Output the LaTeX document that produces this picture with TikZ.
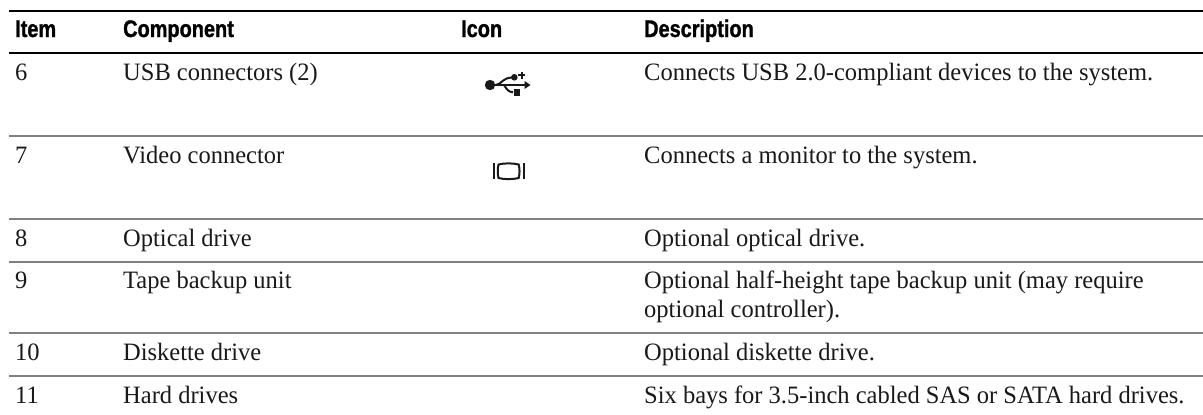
\documentclass[tikz,border=0pt]{standalone}
\usepackage{fontspec}
\setmainfont{Liberation Serif}
\newfontfamily\headfont[FakeStretch=0.83,FakeBold=1.2]{Liberation Sans Bold}
\newfontfamily\bodyfont[FakeStretch=0.98]{Liberation Serif}
\definecolor{rulegray}{gray}{0.5}
\definecolor{inkc}{gray}{0.1}
\tikzset{
  head/.style={anchor=base west,inner sep=0pt,font=\headfont\fontsize{24}{24}\selectfont,text=black},
  body/.style={anchor=base west,inner sep=0pt,font=\bodyfont\fontsize{25}{29}\selectfont,text=inkc},
  blackrule/.style={line width=2.8pt,black},
  grayrule/.style={line width=2.6pt,rulegray},
  iconline/.style={line width=2pt,inkc},
  iconfill/.style={fill=inkc,draw=none}
}
\begin{document}
\begin{tikzpicture}[x=1pt,y=-1pt]
\useasboundingbox (0,0) rectangle (1203,415);
\fill[white] (0,0) rectangle (1203,415);
\draw[blackrule] (9,11) -- (1203,11);
\draw[blackrule] (9,53) -- (1203,53);
\foreach \y in {136,219,262,333,376} \draw[grayrule] (9,\y) -- (1203,\y);
\node[head] (hitem) at (15,37) {Item};
\node[head] (hcomp) at (123,37) {Component};
\node[head] (hicon) at (461,37) {Icon};
\node[head] (hdesc) at (644,37) {Description};
\node[body] (i6) at (15,80) {6};
\node[body] (c6) at (123,80) {USB connectors (2)};
\node[body] (d6) at (644,80) {Connects USB 2.0-compliant devices to the system.};
\node[body] (i7) at (15,163) {7};
\node[body] (c7) at (123,163) {Video connector};
\node[body] (d7) at (644,163) {Connects a monitor to the system.};
\node[body] (i8) at (15,246) {8};
\node[body] (c8) at (123,246) {Optical drive};
\node[body] (d8) at (644,246) {Optional optical drive.};
\node[body] (i9) at (15,288) {9};
\node[body] (c9) at (123,288) {Tape backup unit};
\node[body,align=left] (d9) at (644,317) {Optional half-height tape backup unit (may require\\optional controller).};
\node[body] (i10) at (15,360) {10};
\node[body] (c10) at (123,360) {Diskette drive};
\node[body] (d10) at (644,360) {Optional diskette drive.};
\node[body] (i11) at (15,403) {11};
\node[body] (c11) at (123,403) {Hard drives};
\node[body] (d11) at (644,403) {Six bays for 3.5-inch cabled SAS or SATA hard drives.};
% USB icon
\fill[iconfill] (490,85) circle (5.2);
\draw[iconline] (490,85) -- (525,85);
\fill[iconfill] (530.5,85) -- (524.5,81) -- (524.5,89) -- cycle;
\draw[iconline] (496,85) .. controls (502,84) and (502,78) .. (512,77.5);
\fill[iconfill] (514.3,77.3) circle (3.3);
\draw[iconline] (504,85) .. controls (507,90) and (509,92) .. (513,92.3);
\fill[iconfill] (513.5,89) rectangle (520,95.5);
\draw[line width=1.9pt,inkc] (517.8,75.3) -- (525.4,75.3) (521.6,71.5) -- (521.6,79.1);
% Video icon
\draw[line width=2pt,inkc] (493.5,163.3) -- (493.5,179);
\draw[line width=2pt,inkc] (523.7,163.3) -- (523.7,179);
\draw[line width=2pt,inkc] (498.5,164.5) .. controls (504,163) and (513,163) .. (518.7,164.5) .. controls (519.8,169) and (519.8,173.5) .. (518.7,178) .. controls (513,179.5) and (504,179.5) .. (498.5,178) .. controls (497.5,173.5) and (497.5,169) .. (498.5,164.5) -- cycle;
\end{tikzpicture}
\end{document}
